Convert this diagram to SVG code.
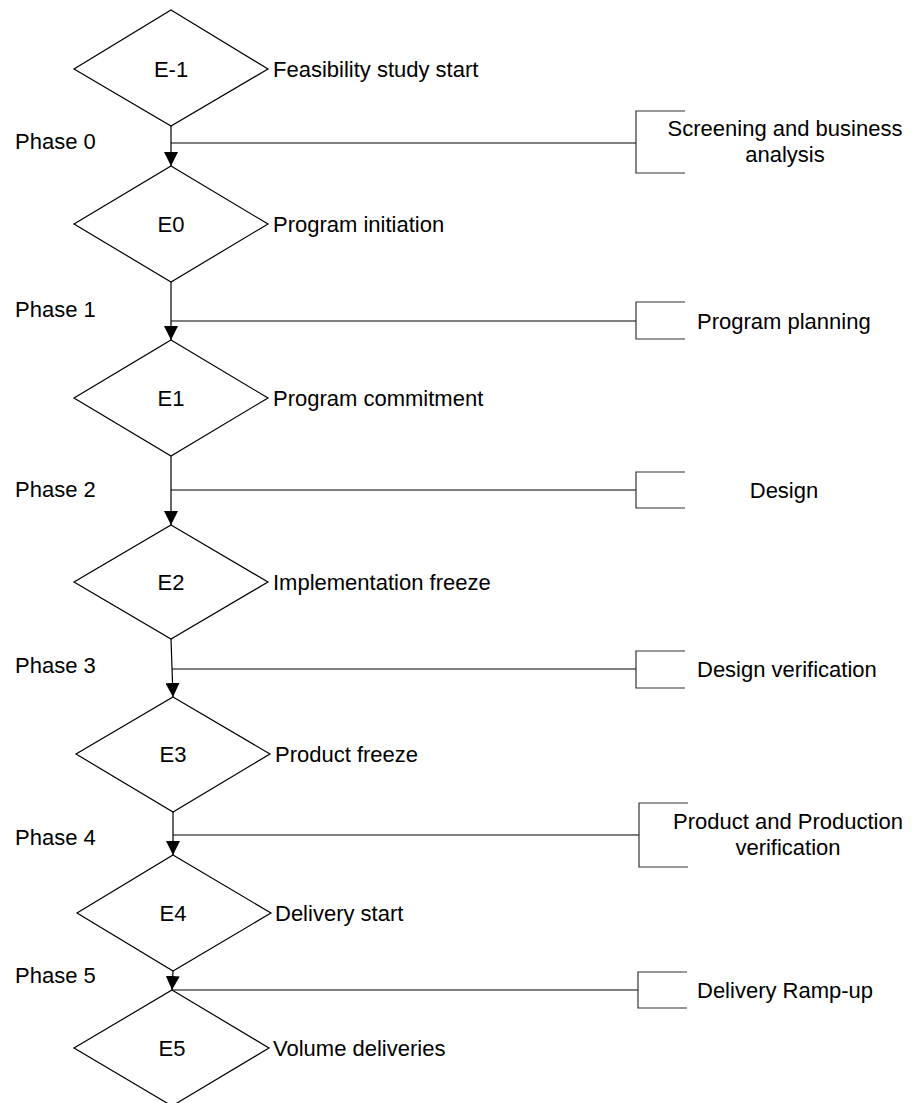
<svg xmlns="http://www.w3.org/2000/svg" width="912" height="1103" viewBox="0 0 912 1103">
<defs>
<style>
.d{fill:#fff;stroke:#000;stroke-width:1.2}
.l{fill:none;stroke:#000;stroke-width:1.2}
.b{fill:none;stroke:#333;stroke-width:1.2}
text{font-family:"Liberation Sans",Arial,sans-serif;font-size:22px;fill:#000}
.c{text-anchor:middle}
</style>
<marker id="ah" markerUnits="userSpaceOnUse" markerWidth="14" markerHeight="14" refX="14" refY="7" orient="auto" viewBox="0 0 14 14">
<path d="M0,0 L14,7 L0,14 Z" fill="#000"/>
</marker>
</defs>
<rect width="912" height="1103" fill="#fff"/>
<g id="connectors">
<line class="l" x1="171" y1="126" x2="171" y2="166" marker-end="url(#ah)"/>
<line class="l" x1="171" y1="282" x2="171" y2="340" marker-end="url(#ah)"/>
<line class="l" x1="171" y1="456" x2="171" y2="525" marker-end="url(#ah)"/>
<line class="l" x1="171" y1="639" x2="173" y2="697" marker-end="url(#ah)"/>
<line class="l" x1="173" y1="812" x2="173" y2="855" marker-end="url(#ah)"/>
<line class="l" x1="173" y1="971" x2="172" y2="990" marker-end="url(#ah)"/>
<line class="l" x1="171" y1="143" x2="636" y2="143"/>
<line class="l" x1="171" y1="321" x2="636" y2="321"/>
<line class="l" x1="171" y1="490" x2="636" y2="490"/>
<line class="l" x1="172" y1="669" x2="636" y2="669"/>
<line class="l" x1="173" y1="835" x2="639" y2="835"/>
<line class="l" x1="172" y1="990" x2="638" y2="990"/>
</g>
<g id="E-1"><polygon class="d" points="171,10 268,69 171,126 74,69"/><text class="c" x="171" y="77">E-1</text><text x="273" y="77">Feasibility study start</text></g>
<g id="E0"><polygon class="d" points="171,166 268,224 171,282 74,224"/><text class="c" x="171" y="232">E0</text><text x="273" y="232">Program initiation</text></g>
<g id="E1"><polygon class="d" points="171,340 268,398 171,456 74,398"/><text class="c" x="171" y="406">E1</text><text x="273" y="406">Program commitment</text></g>
<g id="E2"><polygon class="d" points="171,525 268,582 171,639 74,582"/><text class="c" x="171" y="590">E2</text><text x="273" y="590">Implementation freeze</text></g>
<g id="E3"><polygon class="d" points="173,697 270,754 173,812 76,754"/><text class="c" x="173" y="762">E3</text><text x="275" y="762">Product freeze</text></g>
<g id="E4"><polygon class="d" points="173,855 271,913 173,971 77,913"/><text class="c" x="173" y="921">E4</text><text x="275" y="921">Delivery start</text></g>
<g id="E5"><polygon class="d" points="172,990 269,1048 172,1106 74,1048"/><text class="c" x="172" y="1056">E5</text><text x="273" y="1056">Volume deliveries</text></g>
<g id="phases">
<text x="15" y="149">Phase 0</text>
<text x="15" y="317">Phase 1</text>
<text x="15" y="497">Phase 2</text>
<text x="15" y="673">Phase 3</text>
<text x="15" y="845">Phase 4</text>
<text x="15" y="983">Phase 5</text>
</g>
<g id="P0"><path class="b" d="M685,111 H636 V173 H685"/><text class="c" x="785" y="136">Screening and business</text><text class="c" x="785" y="162">analysis</text></g>
<g id="P1"><path class="b" d="M685,302 H636 V339 H685"/><text x="697" y="329">Program planning</text></g>
<g id="P2"><path class="b" d="M685,472 H636 V508 H685"/><text class="c" x="784" y="498">Design</text></g>
<g id="P3"><path class="b" d="M685,651 H636 V688 H685"/><text x="697" y="677">Design verification</text></g>
<g id="P4"><path class="b" d="M688,803 H639 V867 H688"/><text class="c" x="788" y="829">Product and Production</text><text class="c" x="788" y="855">verification</text></g>
<g id="P5"><path class="b" d="M687,972 H638 V1008 H687"/><text x="697" y="998">Delivery Ramp-up</text></g>
</svg>
